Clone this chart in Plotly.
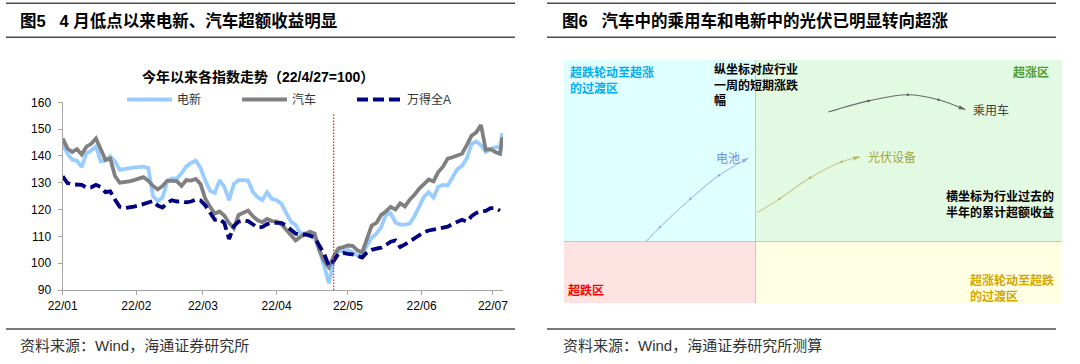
import plotly.graph_objects as go

# ---------------- data: left chart (index, 22/4/27 = 100) ----------------
dates = [
    "2022-01-01", "2022-01-03", "2022-01-05", "2022-01-07", "2022-01-09", "2022-01-11", "2022-01-13", "2022-01-15",
    "2022-01-17", "2022-01-19", "2022-01-21", "2022-01-23", "2022-01-25", "2022-01-27", "2022-01-29", "2022-01-31",
    "2022-02-02", "2022-02-04", "2022-02-06", "2022-02-08", "2022-02-10", "2022-02-12", "2022-02-14", "2022-02-16",
    "2022-02-18", "2022-02-20", "2022-02-22", "2022-02-24", "2022-02-26", "2022-02-28",
    "2022-03-02", "2022-03-04", "2022-03-06", "2022-03-08", "2022-03-10", "2022-03-12", "2022-03-14", "2022-03-16",
    "2022-03-18", "2022-03-20", "2022-03-22", "2022-03-24", "2022-03-26", "2022-03-28", "2022-03-30",
    "2022-04-01", "2022-04-03", "2022-04-05", "2022-04-07", "2022-04-09", "2022-04-11", "2022-04-13", "2022-04-15",
    "2022-04-17", "2022-04-19", "2022-04-21", "2022-04-23", "2022-04-25", "2022-04-27", "2022-04-29",
    "2022-05-01", "2022-05-03", "2022-05-05", "2022-05-07", "2022-05-09", "2022-05-11", "2022-05-13", "2022-05-15",
    "2022-05-17", "2022-05-19", "2022-05-21", "2022-05-23", "2022-05-25", "2022-05-27", "2022-05-29", "2022-05-31",
    "2022-06-02", "2022-06-04", "2022-06-06", "2022-06-08", "2022-06-10", "2022-06-12", "2022-06-14", "2022-06-16",
    "2022-06-18", "2022-06-20", "2022-06-22", "2022-06-24", "2022-06-26", "2022-06-28", "2022-06-30",
    "2022-07-02", "2022-07-04", "2022-07-05",
]

dianxin = [
    144.5, 140.8, 138.6, 138.2, 135.8, 141.0, 142.0, 143.5, 138.0, 138.3, 139.8, 138.0, 134.8, 135.2, 135.6, 135.7,
    135.8, 136.0, 135.5, 125.0, 123.2, 124.5, 130.5, 131.6, 131.6, 133.5, 136.1, 137.4, 138.2, 135.5,
    130.8, 127.0, 126.2, 131.0, 128.5, 123.5, 129.5, 131.0, 131.0, 130.8, 126.6, 124.6, 123.5, 126.5, 124.0,
    123.5, 122.2, 119.0, 115.5, 114.3, 111.0, 111.2, 110.0, 109.5, 104.8, 99.0, 92.5, 101.0, 104.5, 104.6,
    104.9, 104.0, 102.8, 103.5, 106.5, 109.5, 111.0, 113.5, 118.0, 118.7, 115.2, 114.4, 114.4, 114.8, 117.5, 121.5,
    124.8, 126.5, 124.5, 128.5, 129.2, 129.0, 131.8, 135.0, 136.3, 139.0, 144.5, 145.4, 144.0, 141.5, 142.5,
    143.2, 143.5, 148.5,
]

qiche = [
    146.5, 142.8, 141.5, 142.5, 140.5, 143.5, 144.5, 146.5, 142.5, 138.5, 139.0, 132.5, 130.0, 130.2, 130.5, 131.0,
    131.6, 132.1, 130.8, 128.8, 127.5, 128.8, 130.8, 130.8, 130.6, 128.8, 131.0, 130.8, 131.4, 129.5,
    124.0, 121.0, 118.5, 119.3, 117.8, 115.0, 113.0, 118.0, 118.8, 119.6, 117.5, 116.0, 115.3, 116.5, 115.7,
    115.6, 114.5, 112.6, 110.3, 108.5, 109.8, 110.7, 111.8, 111.0, 104.8, 100.8, 98.5, 102.5, 105.5, 106.0,
    106.6, 106.5, 104.8, 104.0, 109.5, 114.0, 115.0, 118.0, 119.3, 121.0, 120.0, 122.3, 121.2, 123.7, 125.5, 127.8,
    129.5, 131.2, 130.5, 134.0, 136.0, 139.0, 139.5, 140.3, 140.8, 144.0, 147.5, 148.8, 151.5, 142.3, 142.5,
    141.5, 140.8, 147.0,
]

wind_all_a = [
    132.4, 129.9, 129.4, 129.4, 129.2, 128.2, 128.3, 129.2, 128.4, 126.5, 126.8, 123.7, 121.0, 120.5, 120.7, 121.1,
    121.5, 122.0, 122.5, 123.2, 121.5, 120.8, 122.5, 123.5, 123.0, 123.1, 122.7, 123.0, 123.7, 123.4,
    121.5, 118.7, 116.2, 116.4, 115.0, 109.0, 113.8, 115.5, 115.9, 115.7, 114.3, 113.3, 113.5, 114.6, 115.0,
    115.0, 115.0, 114.0, 112.3, 111.0, 110.7, 110.7, 110.3, 109.5, 106.5, 103.5, 99.0, 100.8, 103.5, 103.8,
    103.5, 103.3, 102.7, 102.1, 104.0, 105.0, 105.4, 105.8, 106.8, 108.0, 108.5, 106.0, 107.0, 108.2, 109.5, 110.7,
    111.5, 112.2, 112.5, 112.8, 113.1, 113.6, 114.6, 115.5, 116.2, 115.5, 117.5, 118.7, 119.3, 119.5, 120.5,
    120.5, 119.6, None,
]

series_names = ["电新", "汽车", "万得全A"]
base_line_date = "2022-04-25"   # 22/4/27 base marker as placed on the time axis
x_range = ["2022-01-01", "2022-07-05 06:00"]
y_ticks = [90, 100, 110, 120, 130, 140, 150, 160]

# ---------------- data: right quadrant chart ----------------
battery_x = [-11.5, -10.0, -6.8, -3.8, -0.75]
battery_y = [-0.1, 1.1, 3.4, 5.3, 6.7]
pv_x = [0.2, 2.5, 5.7, 9.0, 10.9]
pv_y = [2.3, 3.4, 5.1, 6.4, 6.8]
car_x = [7.6, 11.8, 15.9, 19.1, 21.9]
car_y = [10.4, 11.3, 11.8, 11.4, 10.6]
curve_names = ["电池", "光伏设备", "乘用车"]
qx_range = [-20, 32]
qy_range = [-5, 14.6]

# ---------------- helpers for layout placement ----------------
W, H = 1080, 364
def fx(p):
    return p / W
def fy(p):
    return 1 - p / H

FONT = "Liberation Sans, Arial, Noto Sans CJK SC"

fig = go.Figure()

fig.add_trace(go.Scatter(x=dates, y=dianxin, name=series_names[0], mode="lines",
                         line=dict(color="#99CCFF", width=3.8), xaxis="x", yaxis="y"))
fig.add_trace(go.Scatter(x=dates, y=qiche, name=series_names[1], mode="lines",
                         line=dict(color="#808080", width=3.8), xaxis="x", yaxis="y"))
fig.add_trace(go.Scatter(x=dates, y=wind_all_a, name=series_names[2], mode="lines",
                         line=dict(color="#000080", width=3.8, dash="11px,5px"), xaxis="x", yaxis="y"))

curves = [
    (battery_x, battery_y, "#A9C2F2", "#7A97E6"),
    (pv_x, pv_y, "#C8C88C", "#A6A640"),
    (car_x, car_y, "#6A6A6A", "#404040"),
]
for (cx, cy, lc, mc), nm in zip(curves, curve_names):
    n = len(cx)
    fig.add_trace(go.Scatter(
        x=cx, y=cy, name=nm, mode="lines+markers", showlegend=False,
        line=dict(color=lc, width=1.1, shape="spline", smoothing=1.0),
        marker=dict(symbol=["circle"] * (n - 1) + ["arrow"], size=[0] + [2.5] * (n - 2) + [7],
                    angleref="previous", color=mc, line=dict(width=0)),
        xaxis="x2", yaxis="y2"))

axis_gray = "#A6A6A6"
fig.update_layout(
    width=W, height=H,
    margin=dict(l=0, r=0, t=0, b=0, pad=0, autoexpand=False),
    paper_bgcolor="white", plot_bgcolor="white",
    font=dict(family=FONT, size=12, color="#000"),
    xaxis=dict(domain=[fx(62.7), fx(503)], type="date", range=x_range,
               tick0="2022-01-01", dtick="M1", tickformat="%y/%m",
               ticks="outside", ticklen=4, tickcolor=axis_gray,
               showline=True, linecolor=axis_gray, linewidth=1.3,
               showgrid=False, zeroline=False, tickfont=dict(size=12, color="#000"),
               anchor="y", automargin=False),
    yaxis=dict(domain=[fy(290), fy(102.3)], range=[90, 160], tickvals=y_ticks,
               ticks="outside", ticklen=4, tickcolor=axis_gray,
               showline=True, linecolor=axis_gray, linewidth=1.3,
               showgrid=False, zeroline=False, tickfont=dict(size=12, color="#000"),
               ticklabelstandoff=4,
               anchor="x", automargin=False),
    xaxis2=dict(domain=[fx(564), fx(1062)], range=qx_range, showticklabels=False,
                ticks="", showgrid=False, showline=False, zeroline=True,
                zerolinecolor="#C6C6C6", zerolinewidth=1.2, anchor="y2", automargin=False),
    yaxis2=dict(domain=[fy(303), fy(60)], range=qy_range, showticklabels=False,
                ticks="", showgrid=False, showline=False, zeroline=True,
                zerolinecolor="#C6C6C6", zerolinewidth=1.2, anchor="x2", automargin=False),
    legend=dict(orientation="h", x=fx(122), xanchor="left", y=fy(99.5), yanchor="middle",
                font=dict(size=12, color="#333"), bgcolor="rgba(0,0,0,0)", itemwidth=45,
                entrywidth=55, tracegroupgap=0),
)

shapes = []
# header / footer rules
for (x0, x1) in [(6, 515), (547, 1056)]:
    for yy in [3.3, 37.3, 329]:
        shapes.append(dict(type="line", xref="paper", yref="paper", x0=fx(x0), x1=fx(x1),
                           y0=fy(yy), y1=fy(yy), line=dict(color="#4D4D4D", width=1.6)))
# base-date marker
shapes.append(dict(type="line", xref="x", yref="y domain", x0=base_line_date, x1=base_line_date,
                   y0=0, y1=0.943, line=dict(color="#FF1A1A", width=1.2, dash="1.5px,1.5px")))
# quadrant backgrounds
quad = [
    (qx_range[0], 0, 0, qy_range[1], "#E0FFFF"),
    (0, qx_range[1], 0, qy_range[1], "#E2FAE2"),
    (qx_range[0], 0, qy_range[0], 0, "#FFE3E3"),
    (0, qx_range[1], qy_range[0], 0, "#FFFFE3"),
]
for x0, x1, y0, y1, c in quad:
    shapes.append(dict(type="rect", xref="x2", yref="y2", x0=x0, x1=x1, y0=y0, y1=y1,
                       fillcolor=c, line=dict(width=0), layer="below"))
fig.update_layout(shapes=shapes)

ann = []
def text(x, y, s, size=12, color="#000", xanchor="left", yanchor="middle", align="left"):
    ann.append(dict(x=fx(x), y=fy(y), xref="paper", yref="paper", text=s, showarrow=False,
                    xanchor=xanchor, yanchor=yanchor, align=align,
                    font=dict(family=FONT, size=size, color=color)))

text(18, 20.5, "<b>图5\u00a0\u00a0\u00a04\u00a0月低点以来电新、汽车超额收益明显</b>", size=16.5)
text(560, 20.5, "<b>图6\u00a0\u00a0\u00a0汽车中的乘用车和电新中的光伏已明显转向超涨</b>", size=16.5)
text(257.5, 77, "<b>今年以来各指数走势（22/4/27=100）</b>", size=14, xanchor="center")
text(18, 345, "资料来源：Wind，海通证券研究所", size=15, color="#333")
text(561, 345, "资料来源：Wind，海通证券研究所测算", size=15, color="#333")

text(568, 80, "<b>超跌轮动至超涨<br>的过渡区</b>", size=12, color="#00B0F0")
text(712, 85, "<b>纵坐标对应行业<br>一周的短期涨跌<br>幅</b>", size=12, color="#000")
text(1011, 72.5, "<b>超涨区</b>", size=12, color="#4E9A2E")
text(944, 204, "<b>横坐标为行业过去的<br>半年的累计超额收益</b>", size=12, color="#000")
text(566, 290, "<b>超跌区</b>", size=12, color="#FF0000")
text(968, 288.5, "<b>超涨轮动至超跌<br>的过渡区</b>", size=12, color="#D4A600")

# curve end labels
label_cfg = [(battery_x, battery_y, "right", -6, "#6F8FE6"),
             (pv_x, pv_y, "left", 6, "#A3A33C"),
             (car_x, car_y, "left", 6, "#404040")]
for (cx, cy, xa, sh, col), nm in zip(label_cfg, curve_names):
    ann.append(dict(x=cx[-1], y=cy[-1], xref="x2", yref="y2", text=nm, showarrow=False,
                    xanchor=xa, yanchor="middle", xshift=sh,
                    font=dict(family="Noto Sans CJK SC", size=12, color=col)))

fig.update_layout(annotations=ann)
fig.write_html("out.html", config={"displayModeBar": False},
               post_script="document.body.style.margin='0px';")
